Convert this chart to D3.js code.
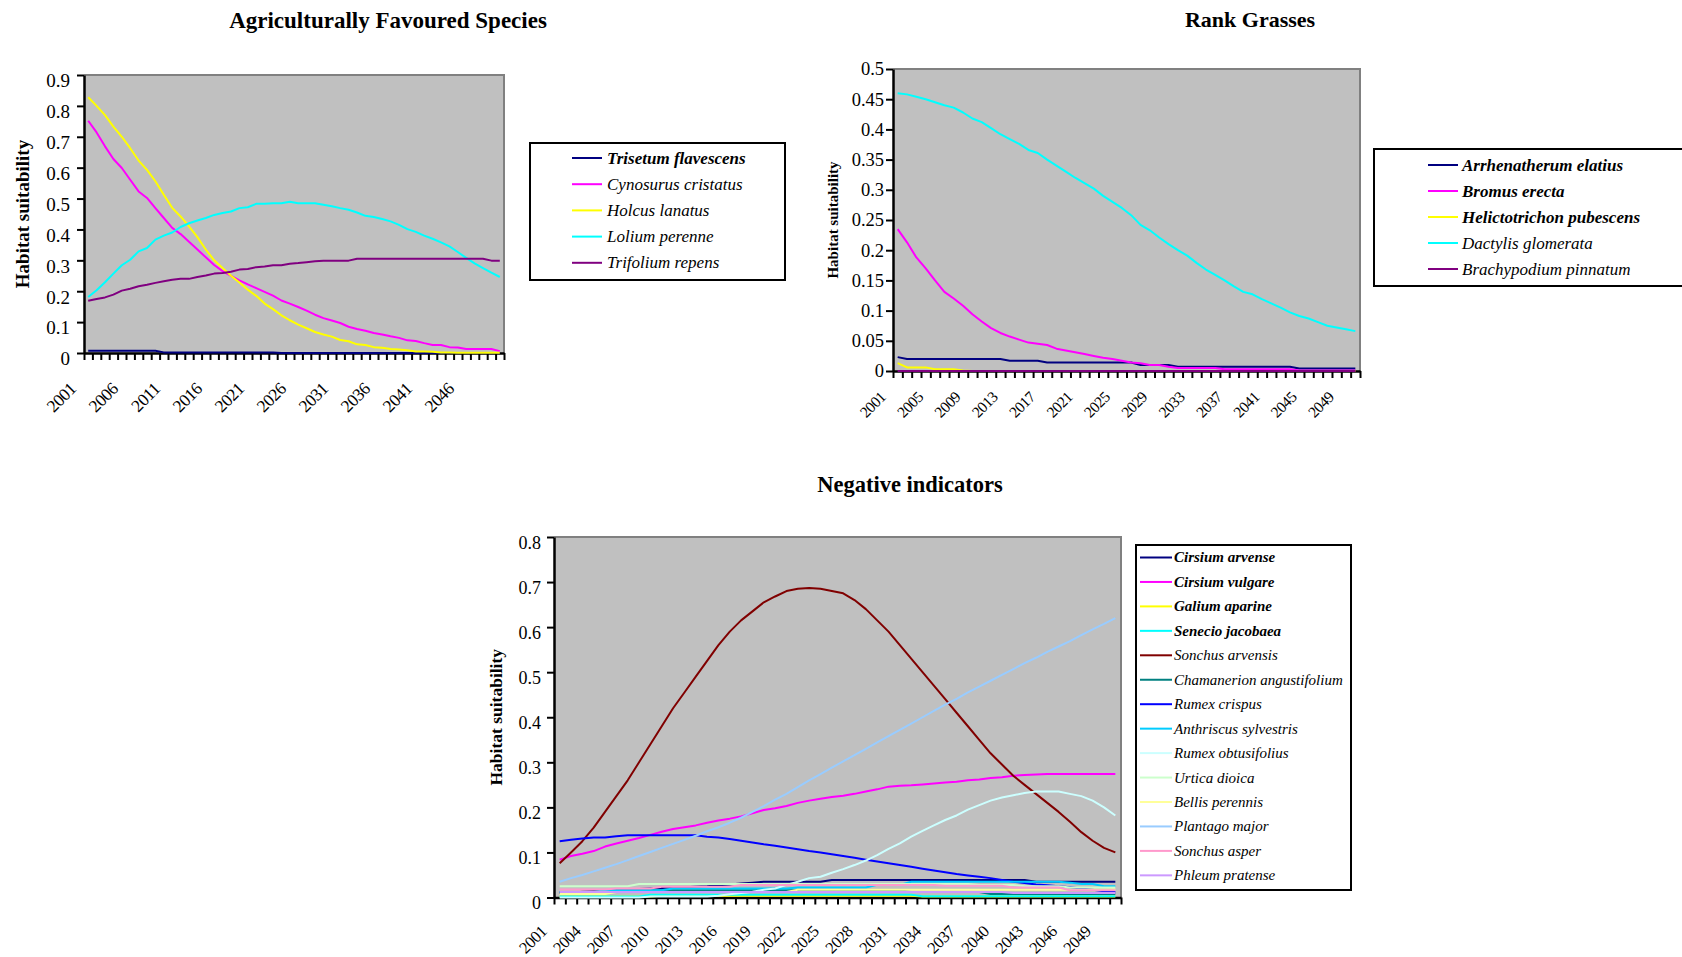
<!DOCTYPE html>
<html>
<head>
<meta charset="utf-8">
<script src="https://cdn.jsdelivr.net/npm/d3@7"></script>
<style>
  html, body { margin: 0; padding: 0; background: #fff; }
  svg { display: block; font-family: "Liberation Serif", "Times New Roman", serif; }
</style>
</head>
<body>
<svg id="chart" width="1682" height="957"></svg>
<script>
// ---- categories ----
const years = d3.range(2001, 2051);

// ---- Agriculturally favoured species ----
const agriNames = ["Trisetum flavescens", "Cynosurus cristatus", "Holcus lanatus", "Lolium perenne", "Trifolium repens"];
const trisetumFlavescens = [0.007,0.007,0.007,0.007,0.007,0.007,0.007,0.007,0.007,0.002,0.002,0.002,0.002,0.002,0.002,0.002,0.002,0.002,0.002,0.002,0.002,0.002,0.002,0,0,0,0,0,0,0,0,0,0,0,0,0,0,0,0,0,0,0,0,0,0,0,0,0,0,0];
const cynosurusCristatus = [0.752,0.714,0.669,0.628,0.599,0.561,0.523,0.502,0.469,0.437,0.405,0.385,0.360,0.335,0.310,0.285,0.265,0.250,0.235,0.222,0.210,0.198,0.186,0.170,0.160,0.149,0.137,0.124,0.113,0.105,0.097,0.085,0.078,0.072,0.065,0.060,0.054,0.049,0.041,0.039,0.032,0.026,0.026,0.019,0.018,0.013,0.013,0.013,0.013,0.006];
const holcusLanatus = [0.828,0.800,0.770,0.733,0.700,0.663,0.623,0.593,0.556,0.512,0.470,0.442,0.410,0.375,0.335,0.300,0.275,0.250,0.228,0.205,0.185,0.160,0.142,0.122,0.106,0.092,0.080,0.068,0.060,0.053,0.042,0.038,0.028,0.026,0.019,0.017,0.013,0.011,0.009,0.005,0.005,0.004,0.002,0.002,0.001,0.001,0.001,0.001,0.001,0.001];
const loliumPerenne = [0.181,0.203,0.229,0.257,0.284,0.302,0.329,0.340,0.367,0.380,0.390,0.408,0.420,0.429,0.437,0.447,0.453,0.458,0.469,0.472,0.483,0.483,0.485,0.485,0.490,0.485,0.485,0.485,0.480,0.475,0.469,0.464,0.455,0.444,0.440,0.434,0.426,0.415,0.401,0.392,0.380,0.370,0.358,0.345,0.327,0.308,0.290,0.275,0.260,0.246];
const trifoliumRepens = [0.169,0.175,0.180,0.189,0.202,0.208,0.216,0.221,0.227,0.232,0.237,0.240,0.240,0.246,0.251,0.257,0.259,0.263,0.270,0.272,0.278,0.280,0.284,0.284,0.289,0.291,0.294,0.297,0.299,0.299,0.299,0.299,0.305,0.305,0.305,0.305,0.305,0.305,0.305,0.305,0.305,0.305,0.305,0.305,0.305,0.305,0.305,0.305,0.299,0.299];
const agriTickYears = [2001,2006,2011,2016,2021,2026,2031,2036,2041,2046];
const agriYTicks = [0,0.1,0.2,0.3,0.4,0.5,0.6,0.7,0.8,0.9];

// ---- Rank grasses ----
const rankNames = ["Arrhenatherum elatius", "Bromus erecta", "Helictotrichon pubescens", "Dactylis glomerata", "Brachypodium pinnatum"];
const arrhenatherumElatius = [0.023,0.020,0.020,0.020,0.020,0.020,0.020,0.020,0.020,0.020,0.020,0.020,0.017,0.017,0.017,0.017,0.014,0.014,0.014,0.014,0.014,0.014,0.014,0.014,0.014,0.014,0.010,0.010,0.010,0.010,0.007,0.007,0.007,0.007,0.007,0.007,0.007,0.007,0.007,0.007,0.007,0.007,0.007,0.004,0.004,0.004,0.004,0.004,0.004,0.004];
const bromusErecta = [0.235,0.213,0.188,0.170,0.150,0.131,0.120,0.108,0.094,0.082,0.071,0.063,0.057,0.052,0.047,0.045,0.043,0.037,0.034,0.031,0.028,0.025,0.022,0.020,0.017,0.014,0.013,0.010,0.010,0.007,0.005,0.005,0.005,0.005,0.005,0.003,0.003,0.003,0.003,0.003,0.003,0.003,0.003,0.001,0.001,0.001,0.001,0.001,0.001,0.001];
const helictotrichonPubescens = [0.013,0.006,0.006,0.006,0.003,0.003,0.003,0.001,0,0,0,0,0,0,0,0,0,0,0,0,0,0,0,0,0,0,0,0,0,0,0,0,0,0,0,0,0,0,0,0,0,0,0,0,0,0,0,0,0,0];
const dactylisGlomerata = [0.460,0.458,0.454,0.450,0.445,0.440,0.436,0.428,0.418,0.412,0.402,0.392,0.384,0.376,0.366,0.361,0.350,0.340,0.330,0.320,0.311,0.302,0.290,0.280,0.270,0.258,0.242,0.233,0.221,0.210,0.200,0.191,0.179,0.168,0.159,0.150,0.140,0.131,0.127,0.119,0.112,0.105,0.097,0.091,0.087,0.081,0.075,0.072,0.069,0.066];
const brachypodiumPinnatum = [0,0,0,0,0,0,0,0,0,0,0,0,0,0,0,0,0,0,0,0,0,0,0,0,0,0,0,0,0,0,0,0,0,0,0,0,0,0,0,0,0,0,0,0,0,0,0,0,0,0];
const rankTickYears = [2001,2005,2009,2013,2017,2021,2025,2029,2033,2037,2041,2045,2049];
const rankYTicks = [0,0.05,0.1,0.15,0.2,0.25,0.3,0.35,0.4,0.45,0.5];

// ---- Negative indicators ----
const negNames = ["Cirsium arvense", "Cirsium vulgare", "Galium aparine", "Senecio jacobaea", "Sonchus arvensis", "Chamanerion angustifolium", "Rumex crispus", "Anthriscus sylvestris", "Rumex obtusifolius", "Urtica dioica", "Bellis perennis", "Plantago major", "Sonchus asper", "Phleum pratense"];
const cirsiumArvense = [0.010,0.010,0.013,0.014,0.015,0.016,0.018,0.019,0.020,0.021,0.022,0.023,0.024,0.025,0.027,0.029,0.031,0.033,0.035,0.035,0.035,0.035,0.035,0.035,0.039,0.039,0.039,0.039,0.039,0.039,0.039,0.039,0.039,0.039,0.039,0.039,0.039,0.039,0.039,0.039,0.039,0.039,0.035,0.035,0.035,0.035,0.035,0.035,0.035,0.035];
const cirsiumVulgare = [0.084,0.092,0.097,0.103,0.113,0.120,0.126,0.132,0.139,0.146,0.152,0.156,0.160,0.166,0.171,0.175,0.180,0.187,0.194,0.198,0.203,0.210,0.215,0.219,0.223,0.226,0.230,0.235,0.240,0.246,0.248,0.249,0.251,0.253,0.255,0.257,0.260,0.262,0.265,0.267,0.270,0.272,0.273,0.274,0.274,0.274,0.274,0.274,0.274,0.274];
const galiumAparine = [0.002,0.002,0.002,0.002,0.002,0.002,0.002,0.002,0.002,0.004,0.004,0.004,0.004,0.004,0.004,0.004,0.004,0.004,0.004,0.004,0.004,0.004,0.004,0.004,0.004,0.004,0.004,0.004,0.004,0.004,0.004,0.004,0.002,0.002,0.002,0.002,0.002,0.002,0.002,0.002,0.002,0.002,0.002,0.002,0.002,0.002,0.002,0.002,0.002,0.002];
const senecioJacobaea = [0.002,0.002,0.002,0.002,0.002,0.002,0.002,0.002,0.006,0.006,0.006,0.006,0.006,0.006,0.006,0.006,0.006,0.006,0.006,0.006,0.006,0.006,0.006,0.006,0.006,0.006,0.006,0.006,0.006,0.006,0.006,0.006,0.003,0.003,0.003,0.003,0.003,0.003,0.003,0.003,0.003,0.003,0.003,0.003,0.003,0.003,0.003,0.003,0.003,0.003];
const sonchusArvensis = [0.076,0.100,0.125,0.155,0.190,0.225,0.260,0.300,0.340,0.380,0.420,0.455,0.490,0.525,0.560,0.590,0.615,0.635,0.655,0.668,0.680,0.685,0.687,0.685,0.680,0.675,0.660,0.640,0.615,0.590,0.560,0.530,0.500,0.470,0.440,0.410,0.380,0.350,0.320,0.295,0.270,0.250,0.230,0.210,0.190,0.168,0.145,0.126,0.110,0.100];
const chamanerionAngustifolium = [0.012,0.012,0.012,0.012,0.016,0.016,0.016,0.016,0.016,0.016,0.016,0.016,0.016,0.016,0.016,0.016,0.016,0.016,0.016,0.016,0.016,0.016,0.016,0.016,0.016,0.016,0.016,0.016,0.016,0.016,0.016,0.012,0.012,0.012,0.012,0.012,0.012,0.012,0.008,0.008,0.008,0.008,0.008,0.008,0.008,0.008,0.008,0.008,0.008,0.008];
const rumexCrispus = [0.125,0.128,0.131,0.133,0.133,0.136,0.138,0.138,0.138,0.138,0.138,0.138,0.138,0.135,0.133,0.130,0.126,0.122,0.118,0.115,0.111,0.107,0.103,0.100,0.096,0.092,0.088,0.084,0.080,0.076,0.072,0.068,0.064,0.060,0.056,0.052,0.049,0.046,0.043,0.039,0.035,0.032,0.029,0.027,0.025,0.023,0.020,0.017,0.014,0.012];
const anthriscusSylvestris = [0.012,0.012,0.012,0.012,0.016,0.016,0.016,0.016,0.016,0.016,0.020,0.020,0.020,0.020,0.020,0.020,0.020,0.020,0.020,0.020,0.020,0.022,0.022,0.022,0.022,0.022,0.022,0.022,0.028,0.028,0.028,0.035,0.035,0.035,0.035,0.035,0.035,0.035,0.035,0.035,0.035,0.035,0.035,0.035,0.035,0.033,0.030,0.030,0.025,0.025];
const rumexObtusifolius = [0,0,0,0,0,0,0,0,0.002,0.002,0.002,0.002,0.002,0.002,0.004,0.007,0.010,0.013,0.017,0.020,0.028,0.035,0.043,0.046,0.055,0.063,0.072,0.082,0.094,0.108,0.120,0.135,0.148,0.160,0.172,0.182,0.195,0.205,0.215,0.222,0.227,0.232,0.235,0.235,0.235,0.230,0.225,0.215,0.200,0.182];
const urticaDioica = [0.025,0.025,0.025,0.025,0.025,0.025,0.025,0.030,0.030,0.030,0.030,0.030,0.030,0.030,0.030,0.030,0.030,0.030,0.030,0.030,0.030,0.030,0.030,0.030,0.030,0.030,0.030,0.030,0.030,0.030,0.030,0.030,0.030,0.030,0.030,0.030,0.030,0.028,0.028,0.028,0.028,0.025,0.025,0.025,0.025,0.022,0.022,0.022,0.022,0.022];
const bellisPerennis = [0.008,0.008,0.008,0.008,0.008,0.012,0.012,0.012,0.012,0.012,0.012,0.012,0.012,0.012,0.012,0.012,0.012,0.012,0.012,0.012,0.012,0.017,0.017,0.017,0.017,0.017,0.017,0.017,0.017,0.017,0.017,0.017,0.017,0.017,0.017,0.017,0.017,0.017,0.017,0.017,0.017,0.017,0.017,0.017,0.017,0.017,0.017,0.017,0.017,0.018];
const plantagoMajor = [0.035,0.043,0.050,0.058,0.066,0.074,0.083,0.092,0.101,0.110,0.119,0.128,0.137,0.147,0.156,0.166,0.177,0.190,0.203,0.217,0.230,0.245,0.260,0.274,0.288,0.302,0.316,0.330,0.344,0.358,0.372,0.386,0.400,0.414,0.428,0.441,0.455,0.468,0.481,0.494,0.507,0.520,0.532,0.545,0.557,0.569,0.582,0.595,0.607,0.620];
const sonchusAsper = [0.018,0.018,0.018,0.018,0.018,0.020,0.020,0.020,0.020,0.024,0.024,0.024,0.024,0.024,0.024,0.024,0.028,0.028,0.028,0.028,0.028,0.028,0.028,0.028,0.028,0.028,0.028,0.028,0.028,0.028,0.028,0.028,0.028,0.028,0.026,0.026,0.026,0.026,0.026,0.026,0.022,0.022,0.022,0.022,0.022,0.016,0.016,0.016,0.016,0.016];
const phleumPratense = [0.012,0.012,0.012,0.012,0.012,0.012,0.012,0.012,0.012,0.012,0.012,0.012,0.012,0.012,0.012,0.012,0.012,0.012,0.012,0.012,0.012,0.012,0.012,0.012,0.012,0.012,0.012,0.012,0.012,0.012,0.012,0.012,0.012,0.012,0.012,0.012,0.012,0.012,0.012,0.012,0.010,0.010,0.010,0.010,0.010,0.010,0.010,0.010,0.010,0.010];
const negTickYears = [2001,2004,2007,2010,2013,2016,2019,2022,2025,2028,2031,2034,2037,2040,2043,2046,2049];
const negYTicks = [0,0.1,0.2,0.3,0.4,0.5,0.6,0.7,0.8];

// Classic spreadsheet line palette, in series order
const palette = ["#000080", "#ff00ff", "#ffff00", "#00ffff", "#800080"];
const negPalette = ["#000080", "#ff00ff", "#ffff00", "#00ffff", "#800000", "#008080", "#0000ff", "#00ccff", "#ccffff", "#ccffcc", "#ffff99", "#99ccff", "#ff99cc", "#cc99ff"];

const svg = d3.select("#chart");
const trimZero = v => d3.format("")(+v.toFixed(2));

function drawChart(c) {
  const g = svg.append("g");
  const x = d3.scaleLinear().domain([0, years.length]).range([c.left, c.right]);
  const y = d3.scaleLinear().domain([0, c.yMax]).range([c.bottom, c.top]);

  // plot area
  g.append("rect")
    .attr("x", c.left).attr("y", c.top)
    .attr("width", c.right - c.left).attr("height", c.bottom - c.top)
    .attr("fill", "#c0c0c0");
  g.append("path")
    .attr("d", `M${c.left},${c.top}H${c.right}V${c.bottom}`)
    .attr("fill", "none").attr("stroke", "#808080").attr("stroke-width", 2);

  // y axis
  const yAxis = g.append("g")
    .attr("transform", `translate(${c.left},0)`)
    .call(d3.axisLeft(y).tickValues(c.yTicks).tickFormat(trimZero)
      .tickSize(7).tickSizeOuter(0).tickPadding(c.yPad));
  yAxis.select(".domain").attr("stroke", "#000").attr("stroke-width", 2.5);
  yAxis.selectAll(".tick line").attr("stroke", "#000").attr("stroke-width", 2);
  yAxis.selectAll(".tick text")
    .attr("font-family", "Liberation Serif").attr("font-size", c.yLabelSize)
    .attr("fill", "#000").attr("dy", c.yLabelDy);

  // x axis: ticks between categories
  const xAxis = g.append("g")
    .attr("transform", `translate(0,${c.bottom})`)
    .call(d3.axisBottom(x).tickValues(d3.range(years.length + 1)).tickFormat("")
      .tickSize(7).tickSizeOuter(0));
  xAxis.select(".domain").attr("stroke", "#000").attr("stroke-width", 2.5);
  xAxis.selectAll(".tick line").attr("stroke", "#000").attr("stroke-width", 2);

  // rotated year labels
  g.append("g").selectAll("text")
    .data(c.tickYears)
    .join("text")
    .attr("x", d => x(years.indexOf(d) + 0.5) + c.xLabelDx)
    .attr("y", c.bottom + c.xLabelDy)
    .attr("transform", d => `rotate(-45,${x(years.indexOf(d) + 0.5) + c.xLabelDx},${c.bottom + c.xLabelDy})`)
    .attr("text-anchor", "end")
    .attr("font-size", c.xLabelSize)
    .attr("letter-spacing", c.xLabelSpacing)
    .text(d => d);

  // series
  const line = d3.line().x((d, i) => x(i + 0.5)).y(d => y(d));
  g.append("g").selectAll("path")
    .data(c.series)
    .join("path")
    .attr("d", s => line(s.values))
    .attr("fill", "none")
    .attr("stroke", s => s.color)
    .attr("stroke-width", 2)
    .attr("stroke-linejoin", "round");

  // titles
  g.append("text")
    .attr("x", c.titleX).attr("y", c.titleY)
    .attr("text-anchor", "middle").attr("font-weight", "bold")
    .attr("font-size", c.titleSize)
    .text(c.title);
  const ym = (c.top + c.bottom) / 2;
  g.append("text")
    .attr("transform", `translate(${c.yTitleX},${ym}) rotate(-90)`)
    .attr("text-anchor", "middle").attr("font-weight", "bold")
    .attr("font-size", c.yTitleSize)
    .text("Habitat suitability");

  // legend
  const L = c.legend;
  const lg = g.append("g");
  lg.append("rect")
    .attr("x", L.x).attr("y", L.y).attr("width", L.w).attr("height", L.h)
    .attr("fill", "#fff").attr("stroke", "#000").attr("stroke-width", 2);
  const rows = lg.selectAll("g.row")
    .data(c.series)
    .join("g").attr("class", "row")
    .attr("transform", (d, i) => `translate(0,${L.row0 + i * L.step})`);
  rows.append("line")
    .attr("x1", L.lineX0).attr("x2", L.lineX1)
    .attr("stroke", d => d.color).attr("stroke-width", 2);
  rows.append("text")
    .attr("x", L.textX).attr("dy", "0.33em")
    .attr("font-size", L.fontSize)
    .attr("font-style", "italic")
    .attr("font-weight", (d, i) => i < L.boldCount ? "bold" : "normal")
    .attr("letter-spacing", L.spacing)
    .text(d => d.name);
}

drawChart({
  left: 84, right: 504, top: 75, bottom: 353, yMax: 0.9,
  yTicks: agriYTicks, yPad: 7, yLabelSize: 19, yLabelDy: "0.62em",
  tickYears: agriTickYears, xLabelDx: -11, xLabelDy: 37, xLabelSize: 17.5, xLabelSpacing: -0.5,
  series: [trisetumFlavescens, cynosurusCristatus, holcusLanatus, loliumPerenne, trifoliumRepens]
    .map((v, i) => ({ name: agriNames[i], values: v, color: palette[i] })),
  title: "Agriculturally Favoured Species", titleX: 388, titleY: 28, titleSize: 23,
  yTitleX: 29, yTitleSize: 19,
  legend: { x: 530, y: 143, w: 255, h: 137, row0: 158, step: 26.2, lineX0: 572, lineX1: 602, textX: 607, fontSize: 17, boldCount: 1, spacing: 0 }
});

drawChart({
  left: 893, right: 1360, top: 69, bottom: 371, yMax: 0.5,
  yTicks: rankYTicks, yPad: 2, yLabelSize: 18.5, yLabelDy: "0.32em",
  tickYears: rankTickYears, xLabelDx: -11, xLabelDy: 27, xLabelSize: 15.5, xLabelSpacing: -0.5,
  series: [arrhenatherumElatius, bromusErecta, helictotrichonPubescens, dactylisGlomerata, brachypodiumPinnatum]
    .map((v, i) => ({ name: rankNames[i], values: v, color: palette[i] })),
  title: "Rank Grasses", titleX: 1250, titleY: 27, titleSize: 22,
  yTitleX: 838, yTitleSize: 15,
  legend: { x: 1374, y: 149, w: 330, h: 137, row0: 165, step: 26, lineX0: 1428, lineX1: 1458, textX: 1462, fontSize: 17, boldCount: 3, spacing: 0 }
});

drawChart({
  left: 554, right: 1121, top: 537, bottom: 897.5, yMax: 0.8,
  yTicks: negYTicks, yPad: 6, yLabelSize: 18, yLabelDy: "0.62em",
  tickYears: negTickYears, xLabelDx: -12, xLabelDy: 35, xLabelSize: 16.5, xLabelSpacing: -0.5,
  series: [cirsiumArvense, cirsiumVulgare, galiumAparine, senecioJacobaea, sonchusArvensis, chamanerionAngustifolium, rumexCrispus, anthriscusSylvestris, rumexObtusifolius, urticaDioica, bellisPerennis, plantagoMajor, sonchusAsper, phleumPratense]
    .map((v, i) => ({ name: negNames[i], values: v, color: negPalette[i] })),
  title: "Negative indicators", titleX: 910, titleY: 492, titleSize: 22.5,
  yTitleX: 502, yTitleSize: 17.5,
  legend: { x: 1136, y: 545, w: 215, h: 345, row0: 557.5, step: 24.45, lineX0: 1140, lineX1: 1172, textX: 1174, fontSize: 15, boldCount: 4, spacing: 0 }
});
</script>
</body>
</html>
